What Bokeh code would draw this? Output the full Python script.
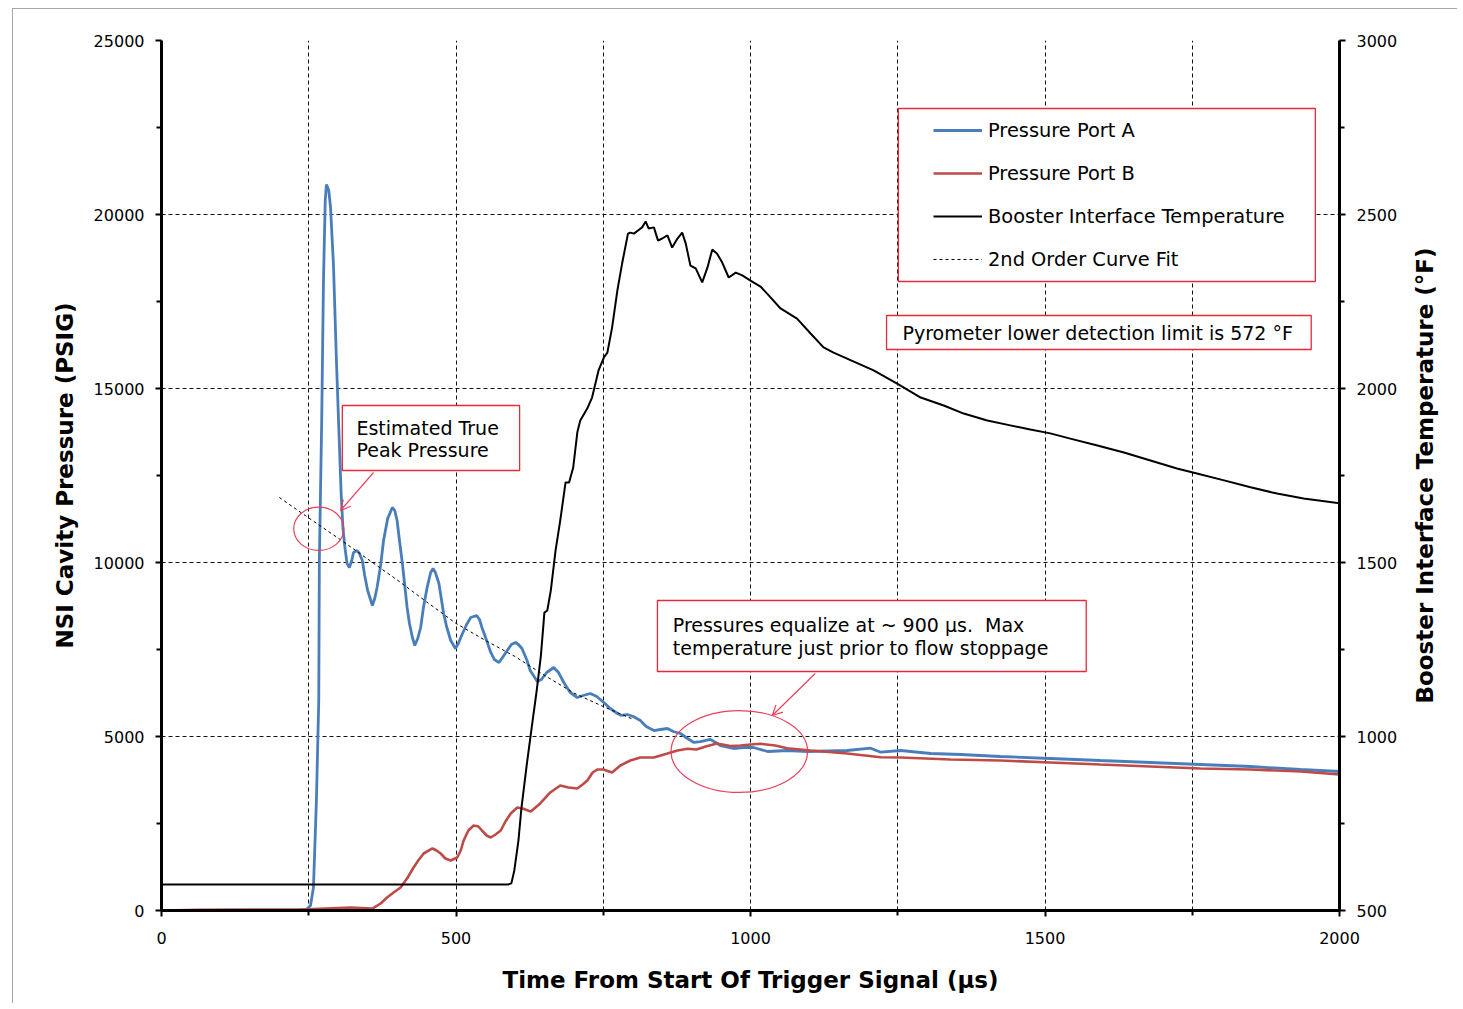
import math
from bokeh.plotting import figure
from bokeh.models import (Range1d, LinearAxis, FixedTicker, Legend, LegendItem,
                          BoxAnnotation, Label, Arrow, OpenHead)
from bokeh.embed import file_html
from bokeh.resources import INLINE

# ---------------- data ----------------
time_a = [0, 151, 236, 246, 253, 258, 263, 267, 268, 272, 275, 278, 280, 284, 287, 292, 297, 301,
          305, 308, 311, 315, 319, 323, 326, 332, 336, 341, 345, 350, 358, 362, 366, 372, 377, 384,
          392, 396, 400, 404, 409, 413, 417, 421, 426, 430, 435, 440, 445, 451, 457, 461, 465, 471,
          475, 479, 484, 491, 499, 504, 511, 518, 525, 535, 540, 544, 552, 559, 565, 573, 579, 587,
          594, 601, 606, 612, 620, 626, 638, 645, 654, 666, 674, 684, 694, 706, 716, 728, 739, 751,
          762, 774, 781, 791, 801, 813, 823, 836, 847, 859, 869, 881, 893, 904, 915, 932, 941, 949,
          971, 988, 1005, 1029, 1063, 1097, 1164, 1204, 1221, 1255, 1306, 1357, 1424, 1509, 1594,
          1679, 1764, 1849, 1934, 2000]
press_a = [0, 0, 0, 30, 144, 661, 3161, 6035, 10058, 14081, 18104, 20403, 20862, 20690, 20201,
           18535, 15805, 13880, 11983, 11006, 10489, 9972, 9857, 10058, 10287, 10345, 10259, 10058,
           9627, 9196, 8765, 8966, 9282, 9914, 10632, 11265, 11581, 11494, 11207, 10632, 9971, 9339,
           8707, 8247, 7845, 7615, 7816, 8132, 8736, 9282, 9713, 9828, 9713, 9397, 8966, 8535, 8161,
           7759, 7529, 7673, 7960, 8218, 8420, 8477, 8362, 8132, 7759, 7414, 7213, 7127, 7270, 7471,
           7644, 7701, 7644, 7529, 7213, 6897, 6581, 6638, 6839, 6983, 6839, 6523, 6264, 6121, 6178,
           6236, 6150, 5977, 5805, 5661, 5604, 5632, 5575, 5460, 5287, 5172, 5201, 5230, 5144, 5086,
           4943, 4828, 4856, 4914, 4828, 4741, 4655, 4684, 4684, 4569, 4598, 4569, 4598, 4664, 4549,
           4598, 4512, 4483, 4425, 4368, 4310, 4253, 4195, 4138, 4052, 3994]

time_b = [0, 66, 151, 236, 321, 358, 372, 383, 394, 406, 418, 428, 436, 445, 460, 467, 474, 482,
          491, 502, 508, 513, 521, 530, 538, 544, 552, 559, 567, 576, 584, 593, 604, 613, 627, 635,
          643, 660, 677, 691, 706, 715, 723, 732, 740, 750, 765, 779, 796, 813, 836, 859, 876, 893,
          908, 924, 943, 966, 983, 1000, 1017, 1042, 1062, 1102, 1164, 1221, 1255, 1340, 1424, 1509,
          1594, 1679, 1764, 1849, 1934, 2000]
press_b = [0, 20, 29, 29, 86, 57, 201, 374, 517, 661, 948, 1236, 1437, 1638, 1782, 1724, 1638,
           1494, 1437, 1523, 1724, 2012, 2299, 2443, 2414, 2299, 2155, 2098, 2184, 2299, 2557, 2787,
           2960, 2931, 2845, 2960, 3075, 3391, 3592, 3535, 3506, 3621, 3736, 3966, 4052, 4052, 3966,
           4167, 4310, 4397, 4397, 4512, 4598, 4646, 4626, 4713, 4799, 4727, 4741, 4770, 4790, 4741,
           4664, 4598, 4512, 4405, 4397, 4339, 4310, 4253, 4195, 4138, 4081, 4052, 3994, 3908]

time_t = [0, 589, 594, 599, 606, 611, 620, 629, 637, 644, 649, 650, 655, 661, 669, 677, 686, 692,
          699, 706, 711, 723, 731, 742, 751, 757, 765, 774, 782, 792, 796, 802, 809, 816, 822, 827,
          836, 843, 850, 859, 867, 876, 884, 890, 898, 907, 918, 927, 935, 943, 952, 963, 975, 986,
          1000, 1017, 1034, 1051, 1079, 1102, 1124, 1141, 1164, 1209, 1249, 1289, 1328, 1362, 1402,
          1441, 1475, 1509, 1543, 1589, 1634, 1679, 1724, 1758, 1804, 1849, 1894, 1939, 2000]
temp_t = [575, 575, 578, 615, 701, 793, 917, 1032, 1132, 1230, 1333, 1356, 1362, 1420, 1534, 1621,
          1730, 1730, 1773, 1874, 1908, 1943, 1974, 2052, 2089, 2103, 2175, 2282, 2359, 2445, 2448,
          2445, 2454, 2463, 2480, 2460, 2463, 2425, 2431, 2440, 2405, 2431, 2448, 2417, 2353, 2345,
          2305, 2348, 2399, 2388, 2362, 2319, 2333, 2325, 2310, 2293, 2262, 2230, 2201, 2158, 2118,
          2103, 2086, 2052, 2014, 1974, 1951, 1928, 1908, 1894, 1882, 1871, 1856, 1836, 1816, 1793,
          1770, 1756, 1736, 1716, 1698, 1684, 1670]

fit_time = [200, 250, 300, 350, 400, 450, 500, 550, 600, 650, 700, 750, 800]
fit_press = [11870, 11280, 10700, 10100, 9500, 8870, 8250, 7760, 7300, 6760, 6250, 5860, 5500]

x_ticks = [0, 500, 1000, 1500, 2000]
x_minor = [250, 750, 1250, 1750]
p_ticks = [0, 5000, 10000, 15000, 20000, 25000]
p_minor = [2500, 7500, 12500, 17500, 22500]
t_ticks = [500, 1000, 1500, 2000, 2500, 3000]
t_minor = [750, 1250, 1750, 2250, 2750]

# ---------------- style ----------------
FONT = "DejaVu Sans"
BLUE = "#4A7EBB"
RED = "#BE4B48"
BOXRED = "#E42B3C"
ANNORED = "#E8405A"

p = figure(width=1445, height=995, output_backend="svg", toolbar_location=None,
           x_range=Range1d(0, 2000), y_range=Range1d(0, 25000),
           min_border_left=148, min_border_right=119, min_border_top=31, min_border_bottom=94,
           background_fill_color="white", border_fill_color="white")
p.margin = (9, 0, 0, 13)
p.styles = {"box-shadow": "-1px -1px 0px 0px #a8a8a8"}
p.outline_line_color = None
p.extra_y_ranges = {"temp": Range1d(500, 3000)}


def style_axis(ax, ticks, minor):
    ax.ticker = FixedTicker(ticks=ticks, minor_ticks=minor)
    ax.axis_line_width = 3
    ax.axis_line_color = "black"
    ax.major_tick_in = 0
    ax.major_tick_out = 6
    ax.minor_tick_in = 0
    ax.minor_tick_out = 5
    ax.major_tick_line_width = 2
    ax.minor_tick_line_width = 2
    ax.major_tick_line_color = "black"
    ax.minor_tick_line_color = "black"
    ax.major_label_text_font = FONT
    ax.major_label_text_font_size = "16px"
    ax.major_label_text_color = "black"
    ax.major_label_standoff = 11
    ax.axis_label_text_font = FONT
    ax.axis_label_text_font_size = "23px"
    ax.axis_label_text_font_style = "bold"
    ax.axis_label_text_color = "black"


xa = p.xaxis[0]
style_axis(xa, x_ticks, x_minor)
xa.major_label_standoff = 15
xa.axis_label = "Time From Start Of Trigger Signal (µs)"
xa.axis_label_standoff = 20

ya = p.yaxis[0]
style_axis(ya, p_ticks, p_minor)
ya.axis_label = "NSI Cavity Pressure (PSIG)"
ya.axis_label_standoff = 13

ra = LinearAxis(y_range_name="temp")
style_axis(ra, t_ticks, t_minor)
p.add_layout(ra, "right")

# right axis title, reading bottom-to-top like the left one (in the right side panel)
p.add_layout(Label(x=2146, y=1750, y_range_name="temp", text="Booster Interface Temperature (°F)",
                   angle=math.pi / 2, text_align="center", text_baseline="middle",
                   text_font=FONT, text_font_size="23px", text_font_style="bold",
                   text_color="black"), "right")

# grid
for g in (p.xgrid[0], p.ygrid[0]):
    g.grid_line_color = "#111111"
    g.grid_line_width = 1
    g.grid_line_dash = "4 3"
p.xgrid[0].ticker = FixedTicker(ticks=x_ticks, minor_ticks=x_minor)
p.xgrid[0].minor_grid_line_color = "#111111"
p.xgrid[0].minor_grid_line_dash = "4 3"
p.ygrid[0].ticker = FixedTicker(ticks=p_ticks)

# series
r_a = p.line(time_a, press_a, line_color=BLUE, line_width=2.8)
r_b = p.line(time_b, press_b, line_color=RED, line_width=2.6)
r_t = p.line(time_t, temp_t, line_color="black", line_width=2, y_range_name="temp")
r_f = p.line(fit_time, fit_press, line_color="black", line_width=1, line_dash="3 3")

# annotation ellipses
p.ellipse(x=[267, 981], y=[10969, 4569], width=[85, 232], height=[1244, 2356],
          fill_color=None, line_color=ANNORED, line_width=1.2)

# arrows
p.add_layout(Arrow(end=OpenHead(size=10, line_color=ANNORED, line_width=1.2),
                   x_start=360, y_start=12586, x_end=304, y_end=11494,
                   line_color=ANNORED, line_width=1.2))
p.add_layout(Arrow(end=OpenHead(size=10, line_color=ANNORED, line_width=1.2),
                   x_start=1110, y_start=6810, x_end=1037, y_end=5604,
                   line_color=ANNORED, line_width=1.2))


# text boxes
def box(l, r, t, b):
    p.add_layout(BoxAnnotation(left=l, right=r, top=t, bottom=b, fill_color="white",
                               fill_alpha=1, line_color=BOXRED, line_alpha=1, line_width=1.3))


def txt(x, y, s):
    p.add_layout(Label(x=x, y=y, text=s, text_font=FONT, text_font_size="19px",
                       text_color="black", text_baseline="middle", text_align="left"))


box(1251, 1959, 23046, 18075)          # legend box
box(1231, 1952, 17098, 16121)          # pyrometer note
txt(1258, 16609, "Pyrometer lower detection limit is 572 °F")
box(307, 608, 14512, 12644)            # estimated peak
txt(331, 13879, "Estimated True")
txt(331, 13247, "Peak Pressure")
box(842, 1570, 8908, 6868)             # equalize note
txt(868, 8190, "Pressures equalize at ~ 900 µs.\u00a0 Max")
txt(868, 7529, "temperature just prior to flow stoppage")

legend = Legend(items=[LegendItem(label="Pressure Port A", renderers=[r_a]),
                       LegendItem(label="Pressure Port B", renderers=[r_b]),
                       LegendItem(label="Booster Interface Temperature", renderers=[r_t]),
                       LegendItem(label="2nd Order Curve Fit", renderers=[r_f])],
                location=(772, 639), padding=10, margin=0, spacing=19,
                label_height=24, glyph_height=24, glyph_width=49, label_standoff=6,
                border_line_color=None, background_fill_alpha=0,
                label_text_font=FONT, label_text_font_size="19.4px", label_text_color="black")
p.add_layout(legend)

open("out.html", "w").write(file_html(p, INLINE))
